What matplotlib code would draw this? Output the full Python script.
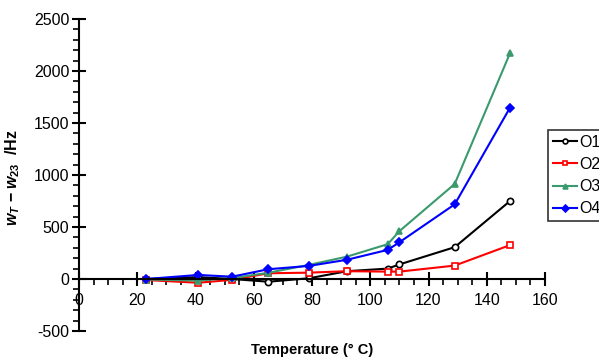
import numpy as np
import matplotlib
matplotlib.use('Agg')
import matplotlib.pyplot as plt
from matplotlib.ticker import MultipleLocator

plt.rcParams['font.family'] = ['Liberation Sans', 'DejaVu Sans']
plt.rcParams['axes.unicode_minus'] = False
plt.rcParams['mathtext.fontset'] = 'custom'
plt.rcParams['mathtext.rm'] = 'Liberation Sans:bold'
plt.rcParams['mathtext.it'] = 'Liberation Sans:italic:bold'

temps = [23, 41, 52.5, 65, 79, 92, 106, 110, 129, 148]
o1 = [0, 18, 0, -26, 7, 75, 100, 140, 306, 750]
o2 = [-10, -36, -8, 55, 61, 75, 71, 71, 129, 326]
o3 = [-5, -15, 8, 60, 136, 215, 335, 460, 914, 2172]
o4 = [0, 39, 22, 94, 126, 185, 280, 353, 718, 1648]

series = [
    ('O1', o1, 'black', 'o', 'white'),
    ('O2', o2, 'red', 's', 'white'),
    ('O3', o3, '#3a9a6e', '^', '#3a9a6e'),
    ('O4', o4, 'blue', 'D', 'blue'),
]

fig = plt.figure(figsize=(5.99, 3.6), dpi=100)
ax = fig.add_axes([79 / 599, 29 / 360, 466 / 599, 312 / 360])

for name, vals, col, mk, fc in series:
    ax.plot(temps, vals, color=col, marker=mk, markersize=4.5, markerfacecolor=fc,
            markeredgecolor=col, markeredgewidth=1.2, linewidth=1.5, label=name)

ax.set_xlim(0, 160)
ax.set_ylim(-500, 2500)
ax.spines['top'].set_visible(False)
ax.spines['right'].set_visible(False)
ax.spines['bottom'].set_position(('data', 0))
ax.spines['bottom'].set_linewidth(1.5)
ax.spines['left'].set_linewidth(1.5)

ax.xaxis.set_major_locator(MultipleLocator(20))
ax.xaxis.set_minor_locator(MultipleLocator(5))
ax.yaxis.set_major_locator(MultipleLocator(500))
ax.yaxis.set_minor_locator(MultipleLocator(100))
ax.tick_params(which='major', direction='inout', length=10, width=1.5, labelsize=11.5)
ax.tick_params(which='minor', direction='out', length=4, width=1.2)
ax.tick_params(axis='x', which='major', pad=5)
ax.tick_params(axis='y', which='major', pad=2)

ax.set_xlabel('Temperature (° C)', fontsize=10.5, fontweight='bold')
ax.xaxis.set_label_coords(0.5, -0.04)
ax.set_ylabel(r'$w_T\,-w_{23}$  /Hz', fontsize=11.5, fontweight='bold')
ax.yaxis.set_label_coords(-0.122, 0.493)

leg = ax.legend(loc='upper left', bbox_to_anchor=(548 / 599, 230 / 360),
                bbox_transform=fig.transFigure, frameon=True, fancybox=False,
                edgecolor='black', fontsize=11.5, handlelength=1.5, handletextpad=0.15,
                borderpad=0.3, labelspacing=0.45, borderaxespad=0)
leg.get_frame().set_linewidth(1.2)
for h in leg.legend_handles:
    h.set_markersize(3.5)

fig.savefig('out.png', dpi=100)
